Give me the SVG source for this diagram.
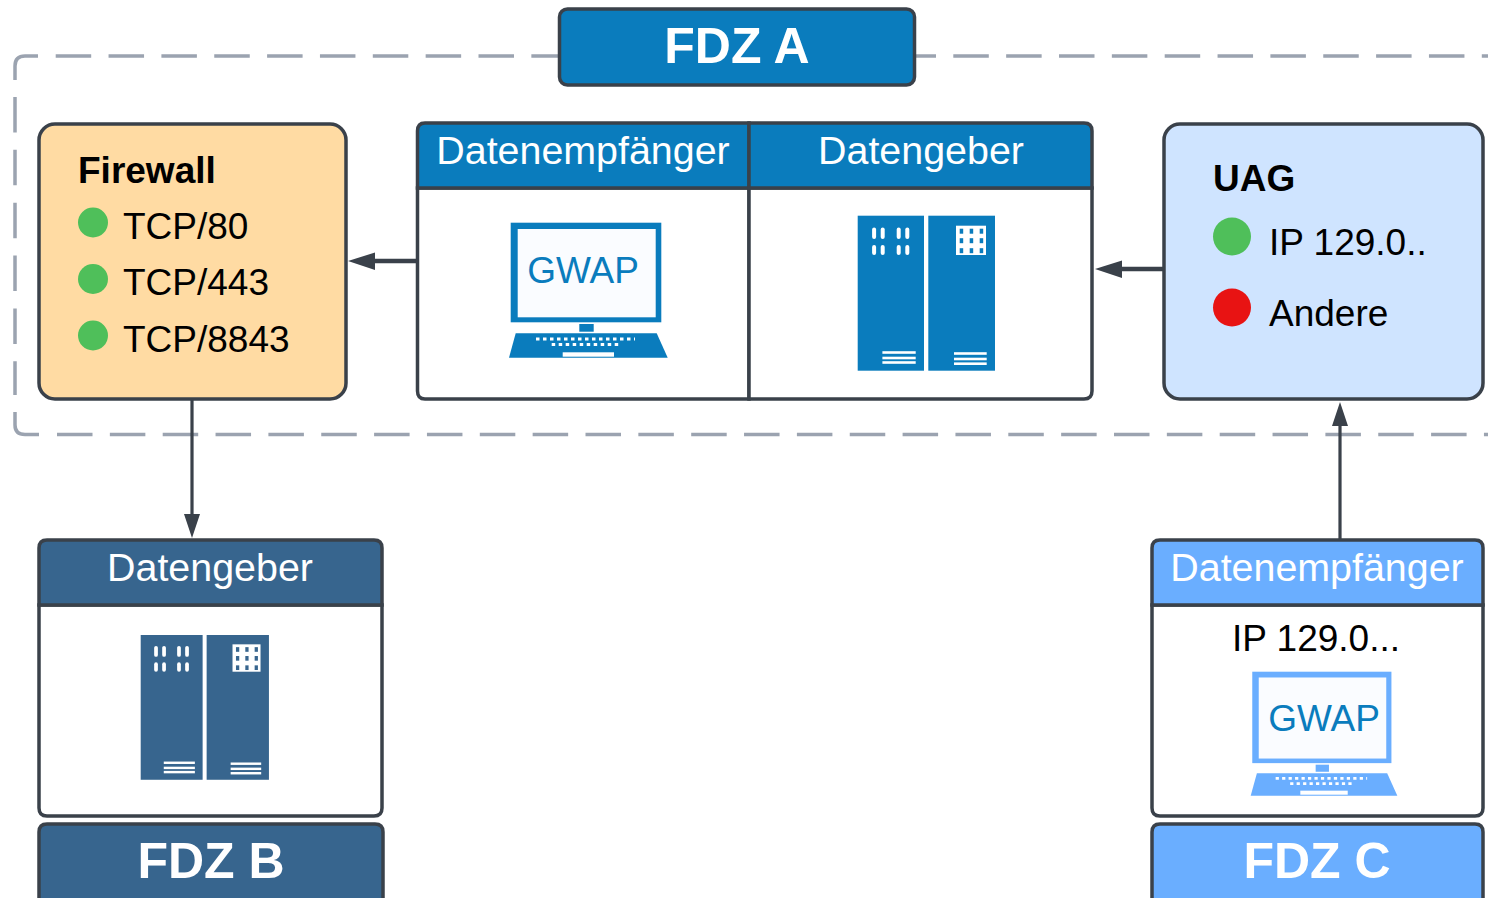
<svg xmlns="http://www.w3.org/2000/svg" xmlns:xlink="http://www.w3.org/1999/xlink" width="1488" height="898" viewBox="0 0 1488 898">
<style>
text{font-family:"Liberation Sans",Arial,sans-serif}
.box{stroke:#3a414a;stroke-width:3.5}
.dash{fill:none;stroke:#9ba3b0;stroke-width:3.5;stroke-dasharray:35.500 17.350}
.solid{fill:none;stroke:#9ba3b0;stroke-width:3.5}
.conn{fill:none;stroke:#3a414a;stroke-width:3.2}
.conn2{fill:none;stroke:#3a414a;stroke-width:4.5}
.head{fill:#3a414a}
.title{font-size:50px;font-weight:bold;fill:#fff;text-anchor:middle}
.hd{font-size:39.400px;fill:#fff;text-anchor:middle}
.lbl{font-size:37px;fill:#000}
.lblb{font-size:37px;font-weight:bold;fill:#000}
.gwap{font-size:37px;fill:#0a7cbd;text-anchor:middle}
.w{fill:#fff}
</style>
<defs>
<symbol id="server" overflow="visible">
<rect x="0" y="0" width="66.3" height="155" fill="currentColor"/>
<rect x="70.6" y="0" width="66.7" height="155" fill="currentColor"/>
<g class="w">
<rect x="14.4" y="11.7" width="4" height="11.6" rx="2"/><rect x="23" y="11.7" width="4" height="11.6" rx="2"/><rect x="39" y="11.7" width="4" height="11.6" rx="2"/><rect x="47.6" y="11.7" width="4" height="11.6" rx="2"/>
<rect x="14.4" y="29.3" width="4" height="10" rx="2"/><rect x="23" y="29.3" width="4" height="10" rx="2"/><rect x="39" y="29.3" width="4" height="10" rx="2"/><rect x="47.6" y="29.3" width="4" height="10" rx="2"/>
<rect x="98.3" y="10" width="30" height="29.3"/>
<rect x="24.7" y="135.500" width="33.3" height="2.6"/><rect x="24.7" y="141" width="33.3" height="2.6"/><rect x="24.7" y="145.500" width="33.3" height="2.6"/>
<rect x="96.3" y="136.500" width="32.7" height="2.6"/><rect x="96.3" y="142" width="32.7" height="2.6"/><rect x="96.3" y="146.700" width="32.7" height="2.6"/>
</g>
<g fill="currentColor">
<rect x="102" y="13" width="3.5" height="5"/><rect x="112" y="13" width="3.5" height="5"/><rect x="122" y="13" width="3.5" height="5"/>
<rect x="102" y="22.5" width="3.5" height="5"/><rect x="112" y="22.5" width="3.5" height="5"/><rect x="122" y="22.5" width="3.5" height="5"/>
<rect x="102" y="32.5" width="3.5" height="5"/><rect x="112" y="32.5" width="3.5" height="5"/><rect x="122" y="32.5" width="3.5" height="5"/>
</g>
</symbol>
<symbol id="laptop" overflow="visible">
<rect x="1.7" y="0" width="150.6" height="99.6" fill="currentColor"/>
<rect x="8.7" y="6.3" width="138" height="88.3" fill="#fafcff"/>
<rect x="70.3" y="101.3" width="14.4" height="7.7" fill="currentColor"/>
<path d="M6.7 110.6H147.7L158.7 135H0Z" fill="currentColor"/>
<g class="w">
<path stroke="#fff" stroke-width="3" stroke-dasharray="3.5 3.5" d="M27 116.3H126"/>
<path stroke="#fff" stroke-width="3" stroke-dasharray="3.5 3.5" d="M42.7 121.8H111.7"/>
<rect x="53.7" y="129.6" width="51.3" height="4.4"/>
</g>
</symbol>
</defs>

<g id="boundary">
<path class="solid" d="M38 56H25Q15 56 15 66V80"/>
<path class="dash" d="M55.700 56H558"/>
<path class="solid" d="M916 56H936"/>
<path class="dash" d="M953.300 56H1488"/>
<path class="dash" d="M15 97V395"/>
<path class="solid" d="M15 412V425Q15 434.500 25 434.500H39"/>
<path class="dash" d="M57 434.500H1488"/>
</g>

<g id="connectors">
<path class="conn2" d="M416 261H372"/><path class="head" d="M348 261L375 252.500V270Z"/>
<path class="conn2" d="M1163 269H1118"/><path class="head" d="M1095 269L1122 260.500V278Z"/>
<path class="conn" d="M192 400V516"/><path class="head" d="M192 538L184 514H200Z"/>
<path class="conn" d="M1340 539V424"/><path class="head" d="M1340 402L1332 426H1348Z"/>
</g>

<g id="fdz-a"><rect class="box" x="559.5" y="9" width="355" height="76" rx="8" fill="#0a7cbd"/><text class="title" x="737" y="63">FDZ A</text></g>

<g id="firewall">
<rect class="box" x="39" y="124" width="307" height="275" rx="16" fill="#ffdba3"/>
<text class="lblb" x="78" y="183">Firewall</text>
<circle cx="93" cy="222.500" r="15" fill="#4fbf5a"/><text class="lbl" x="123" y="239">TCP/80</text>
<circle cx="93" cy="279" r="15" fill="#4fbf5a"/><text class="lbl" x="123" y="295">TCP/443</text>
<circle cx="93" cy="335.500" r="15" fill="#4fbf5a"/><text class="lbl" x="123" y="352">TCP/8843</text>
</g>

<g id="fdz-a-receiver">
<path class="box" d="M417.500 188H749V399H425Q417.500 399 417.500 391Z" fill="#fff"/>
<path class="box" d="M417.500 188V131Q417.500 123 425 123H749V188Z" fill="#0a7cbd"/>
<text class="hd" x="583" y="164">Datenempfänger</text>
<use href="#laptop" x="509" y="222.700" style="color:#0a7cbd"/>
<text class="gwap" x="583" y="283">GWAP</text>
</g>

<g id="fdz-a-provider">
<path class="box" d="M749 188H1092V391Q1092 399 1084 399H749Z" fill="#fff"/>
<path class="box" d="M749 123H1084Q1092 123 1092 131V188H749Z" fill="#0a7cbd"/>
<text class="hd" x="921" y="164">Datengeber</text>
<use href="#server" x="857.700" y="215.700" style="color:#0a7cbd"/>
</g>

<g id="uag">
<rect class="box" x="1164" y="124" width="319" height="275" rx="16" fill="#cfe4ff"/>
<text class="lblb" x="1213" y="191">UAG</text>
<circle cx="1232" cy="236.500" r="19" fill="#4fbf5a"/><text class="lbl" x="1269" y="255">IP 129.0..</text>
<circle cx="1232" cy="307.500" r="19" fill="#e81313"/><text class="lbl" x="1269" y="326">Andere</text>
</g>

<g id="fdz-b-provider">
<path class="box" d="M39 605H382V808Q382 816 374 816H47Q39 816 39 808Z" fill="#fff"/>
<path class="box" d="M39 605V548Q39 540 47 540H374Q382 540 382 548V605Z" fill="#37658e"/>
<text class="hd" x="210" y="581">Datengeber</text>
<use href="#server" transform="translate(140.700 635) scale(.934)" style="color:#37658e"/>
</g>

<g id="fdz-b"><path class="box" d="M39 900V832Q39 824 47 824H375Q383 824 383 832V900Z" fill="#37658e"/><text class="title" x="211" y="878">FDZ B</text></g>

<g id="fdz-c-receiver">
<path class="box" d="M1152 605H1483V808Q1483 816 1475 816H1160Q1152 816 1152 808Z" fill="#fff"/>
<path class="box" d="M1152 605V548Q1152 540 1160 540H1475Q1483 540 1483 548V605Z" fill="#6aaeff"/>
<text class="hd" x="1317" y="581">Datenempfänger</text>
<text x="1316" y="651" style="font-size:37px;fill:#000;text-anchor:middle">IP 129.0...</text>
<use href="#laptop" transform="translate(1250.700 671.700) scale(.924 .918)" style="color:#6aaeff"/>
<text class="gwap" x="1324" y="731">GWAP</text>
</g>

<g id="fdz-c"><path class="box" d="M1152 900V832Q1152 824 1160 824H1475Q1483 824 1483 832V900Z" fill="#6aaeff"/><text class="title" x="1317" y="878">FDZ C</text></g>
</svg>
